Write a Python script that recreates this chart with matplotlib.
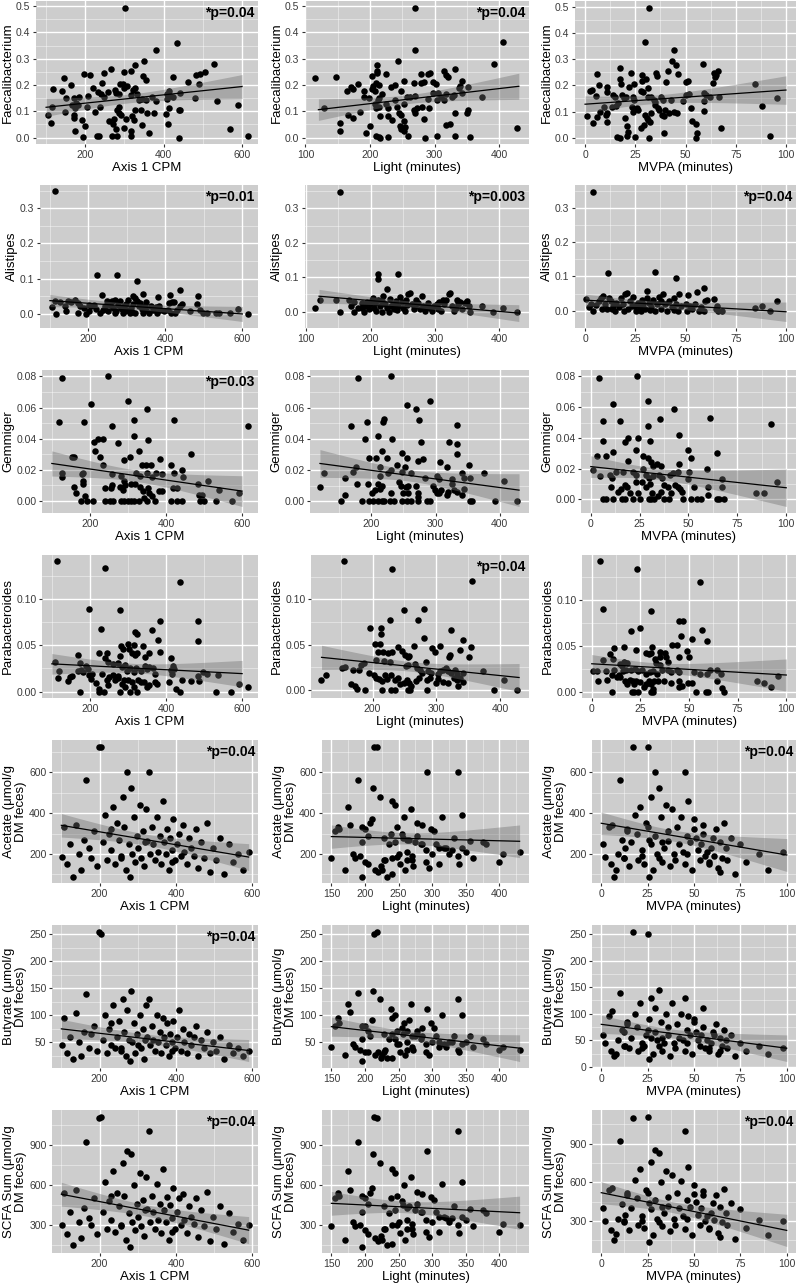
import numpy as np
import matplotlib
matplotlib.use('Agg')
from matplotlib import pyplot as plt
from matplotlib.ticker import MultipleLocator, FormatStrFormatter

plt.rcParams['font.family'] = ['Liberation Sans', 'DejaVu Sans']

# (x, y) pairs
faec_cpm = [(301,.495),(435,.36),(381,.333),(529,.28),(350,.29),(327,.276),(265,.262),(316,.254),(300,.248),(249,.246),(197,.242),(213,.237),(146,.227),(347,.234),(354,.218),(423,.229),(505,.25),(493,.242),(483,.238),(461,.21),(490,.203),(164,.2),(117,.185),(140,.177),(219,.187),(243,.208),(288,.204),(296,.204),(307,.196),(300,.19),(328,.19),(322,.181),(275,.181),(257,.175),(233,.175),(240,.166),(279,.168),(286,.165),(248,.156),(208,.157),(151,.152),(172,.152),(184,.156),(317,.163),(332,.166),(338,.143),(345,.148),(355,.143),(381,.14),(370,.153),(408,.166),(413,.178),(417,.158),(425,.156),(441,.168),(409,.148),(480,.149),(537,.14),(106,.084),(113,.054),(115,.118),(147,.099),(166,.124),(175,.111),(171,.086),(172,.073),(175,.023),(192,.065),(199,.044),(194,.001),(176,.13),(181,.122),(204,.115),(225,.096),(238,.115),(230,.004),(235,.004),(261,.061),(272,.052),(278,.032),(282,.004),(269,.004),(274,.07),(282,.105),(286,.118),(285,.092),(290,.084),(300,.035),(305,.07),(316,.004),(317,.023),(320,.08),(324,.067),(328,.105),(345,.047),(343,.103),(358,.095),(363,.016),(375,.092),(407,.09),(413,.111),(412,.052),(438,.103),(442,.103),(438,0),(569,.033),(590,.124),(615,.006)]
faec_light = [(269,.495),(406,.362),(270,.333),(391,.28),(243,.291),(115,.227),(147,.229),(211,.275),(211,.252),(211,.244),(225,.242),(203,.235),(278,.242),(292,.247),(290,.242),(314,.252),(317,.239),(320,.229),(332,.262),(209,.209),(205,.196),(214,.2),(164,.177),(170,.191),(174,.186),(181,.204),(191,.178),(190,.153),(199,.152),(203,.184),(207,.177),(218,.165),(233,.194),(239,.2),(248,.178),(252,.214),(257,.153),(261,.153),(268,.209),(270,.158),(279,.206),(284,.213),(297,.213),(302,.204),(297,.17),(305,.17),(289,.148),(304,.143),(309,.153),(315,.143),(318,.166),(326,.156),(329,.163),(337,.187),(342,.215),(339,.196),(342,.171),(352,.191),(373,.153),(128,.114),(153,.054),(153,.024),(185,.099),(193,.016),(200,.044),(207,.128),(209,.111),(214,.118),(215,.081),(212,.143),(214,.149),(209,.004),(213,.001),(216,0),(227,.001),(225,.127),(228,.111),(228,.082),(234,.065),(238,.143),(241,.118),(244,.095),(246,.044),(248,.032),(248,.086),(252,.128),(252,.061),(252,.023),(254,.039),(258,.006),(268,.105),(270,.095),(272,.111),(281,.118),(284,.07),(285,0),(291,.111),(304,.004),(318,.046),(323,.052),(331,.006),(332,.092),(350,.092),(351,.105),(354,.001),(427,.035),(166,.086),(173,.075)]
faec_mvpa = [(31.9,.497),(29.8,.364),(44.4,.335),(43.1,.293),(45.5,.276),(58.5,.281),(41.1,.254),(46.3,.243),(6.0,.243),(17.2,.265),(22.9,.249),(17.6,.226),(28.5,.238),(35.1,.246),(35.9,.237),(30.1,.223),(64.4,.249),(66.0,.254),(65.2,.238),(64.7,.23),(84.7,.205),(63.9,.209),(50.4,.212),(51.2,.216),(40.5,.214),(28.5,.216),(24.6,.205),(18.1,.207),(2.4,.179),(3.7,.184),(7.0,.201),(10.7,.192),(10.7,.173),(5.7,.159),(13.8,.163),(15.1,.154),(18.4,.163),(19.2,.15),(20.3,.154),(21.9,.192),(24.6,.144),(24.1,.156),(27.8,.179),(28.9,.173),(31.1,.188),(31.4,.156),(33.0,.154),(34.1,.144),(35.0,.135),(35.0,.125),(37.6,.156),(38.8,.144),(42.8,.144),(50.4,.165),(51.7,.167),(48.9,.14),(52.5,.112),(59.0,.172),(60.2,.163),(59.0,.14),(59.3,.103),(62.3,.156),(66.7,.156),(88.3,.123),(95.6,.15),(91.9,.006),(0.8,.084),(4.2,.055),(5.9,.08),(7.5,.099),(9.4,.118),(10.2,.087),(11.1,.093),(10.9,.061),(13.2,.116),(16.4,.131),(15.6,.121),(20.0,.074),(20.8,.045),(21.6,.023),(21.1,.006),(16.1,.004),(17.6,.001),(23.3,.118),(24.1,.099),(24.9,.004),(25.7,.112),(26.5,.106),(27.8,.036),(29.1,.048),(29.8,.087),(30.6,.074),(31.4,.067),(32.2,.061),(31.7,.001),(33.0,.093),(36.3,.112),(36.6,.106),(38.2,.087),(39.5,.084),(39.8,.106),(39.5,.02),(41.6,.095),(44.4,.099),(45.7,.093),(53.3,.065),(55.3,.052),(55.8,.019),(55.0,.001),(67.6,.036)]

alist_cpm = [(113,.348),(223,.11),(274,.111),(327,.094),(236,.052),(341,.057),(437,.066),(413,.054),(484,.049),(381,.046),(113,.035),(105,.02),(117,0),(139,.021),(143,.008),(147,.035),(164,.04),(172,.03),(179,.021),(174,.002),(193,0),(189,.016),(202,.025),(208,.021),(214,.025),(221,.013),(231,.002),(238,.011),(244,.023),(252,.008),(261,.035),(265,.016),(270,.002),(273,.008),(278,.024),(282,.035),(284,.016),(289,.002),(292,.023),(297,.027),(300,.011),(303,.04),(307,.002),(311,.016),(316,.027),(317,.049),(320,.044),(322,.002),(327,.035),(331,.021),(334,.03),(339,.014),(343,.002),(347,.021),(351,.011),(357,.002),(362,.021),(368,.011),(375,.018),(379,.002),(383,.021),(387,.011),(407,.011),(410,.03),(415,.002),(418,.033),(423,.033),(425,.002),(429,.011),(438,.021),(442,.027),(463,.007),(481,.027),(490,.009),(497,.002),(507,.002),(531,.002),(539,.002),(569,.002),(590,.013),(615,0),(202,.007),(248,.035),(256,.024),(269,.04),(287,.014),(295,.008),(314,.005),(349,.032),(155,.033),(126,.033),(396,.007)]
alist_light = [(153,.349),(211,.11),(211,.095),(243,.11),(226,.066),(114,.01),(122,.035),(147,.035),(153,0),(166,.033),(170,.016),(174,.029),(174,0),(181,.012),(187,.026),(190,0),(192,.016),(194,.029),(199,.021),(202,.033),(204,.04),(205,.012),(207,.026),(209,.002),(212,.035),(215,.016),(218,0),(220,.045),(223,.023),(225,.012),(228,0),(230,.038),(234,.021),(237,.007),(239,.031),(242,.016),(246,.042),(248,.029),(251,.012),(253,.002),(255,.035),(258,.05),(261,.055),(264,.023),(268,.007),(270,.035),(273,.026),(279,.045),(282,.016),(285,.002),(289,.026),(292,.012),(295,.002),(299,.016),(303,.023),(306,.029),(310,.002),(314,.021),(317,.035),(321,.05),(323,.055),(326,.016),(329,.002),(332,.012),(335,.023),(339,.029),(342,.007),(346,.026),(349,.031),(352,.016),(354,0),(373,.018),(390,0),(406,.012),(427,0),(187,.01),(218,.031),(241,.004),(256,.019),(277,.007),(305,.007),(312,.035),(232,.016),(198,.007),(269,.016),(334,.035),(287,.013)]
alist_mvpa = [(4.2,.348),(11.2,.11),(35.0,.112),(45.5,.096),(30.9,.058),(59.3,.065),(55.8,.055),(51.4,.046),(46.7,.05),(0.5,.034),(2.9,.021),(4.1,0),(5.4,.017),(6.7,.027),(7.8,.037),(9.1,.043),(9.9,.019),(10.7,.005),(11.9,.037),(12.7,.027),(13.8,.014),(14.8,0),(15.6,.024),(16.7,.012),(17.7,.037),(18.7,.021),(19.7,.048),(20.8,.053),(21.6,.005),(22.4,.027),(23.3,.014),(24.1,.04),(25.2,0),(26.2,.024),(27.2,.01),(28.1,.031),(28.9,.019),(29.8,.005),(30.7,.037),(31.7,.024),(32.7,.012),(33.7,.031),(34.6,0),(35.6,.019),(36.6,.04),(37.6,.029),(38.7,.048),(39.8,.019),(40.8,0),(42.0,.027),(43.1,.01),(44.1,.038),(45.2,.021),(46.3,0),(47.6,.014),(50.1,.021),(50.9,0),(52.2,.014),(53.3,.005),(54.9,.019),(56.6,0),(57.7,.012),(59.8,.027),(60.7,.031),(64.2,.034),(65.2,.005),(66.3,0),(68.0,0),(84.7,.009),(88.3,.014),(92.0,0),(95.6,.029),(8.6,.005),(13.5,.005),(19.2,0),(24.9,.014),(27.8,0),(32.2,.002),(37.9,.005),(44.4,.002),(59.3,0),(65.5,.014),(2.1,.01)]

gemm_cpm = [(128,.079),(248,.08),(300,.064),(204,.062),(349,.059),(120,.051),(185,.051),(317,.052),(421,.052),(259,.048),(616,.048),(211,.038),(221,.04),(234,.04),(214,.032),(317,.042),(352,.039),(273,.037),(330,.032),(467,.03),(305,.028),(152,.028),(159,.028),(227,.028),(234,.023),(289,.026),(384,.027),(338,.023),(347,.023),(360,.023),(414,.023),(126,.018),(126,.015),(179,.017),(182,.018),(257,.017),(282,.016),(320,.018),(332,.016),(349,.018),(374,.018),(389,.017),(421,.018),(442,.02),(446,.015),(364,.015),(182,.013),(183,.011),(159,.009),(164,.005),(187,.003),(289,.013),(291,.01),(258,.01),(240,.008),(255,.008),(308,.011),(319,.011),(332,.009),(339,.006),(353,.008),(364,.003),(382,.006),(389,.006),(418,.008),(429,.008),(484,.011),(488,.004),(495,.004),(510,.013),(539,.007),(592,.005),(176,0),(193,0),(208,0),(241,0),(252,0),(261,0),(282,0),(290,0),(299,0),(307,0),(317,0),(328,0),(349,0),(370,0),(413,0),(429,0),(442,0),(489,0),(500,0),(531,0),(573,0),(341,.002),(356,.005),(286,.007),(278,.009)]
gemm_light = [(179,.079),(230,.08),(291,.064),(255,.062),(269,.059),(193,.051),(218,.051),(220,.053),(274,.052),(169,.048),(333,.049),(211,.042),(190,.04),(232,.04),(278,.038),(321,.038),(334,.037),(217,.032),(247,.031),(333,.03),(197,.028),(207,.028),(225,.028),(256,.028),(272,.026),(280,.027),(307,.025),(318,.022),(352,.023),(376,.018),(127,.018),(172,.019),(176,.022),(214,.022),(226,.018),(230,.02),(240,.023),(247,.019),(253,.022),(262,.018),(283,.015),(302,.016),(305,.014),(325,.014),(341,.018),(345,.015),(353,.015),(407,.013),(120,.009),(159,.015),(159,.004),(178,.011),(195,.011),(201,.005),(206,.007),(210,.011),(214,.016),(213,.008),(216,.01),(230,.005),(243,.012),(246,.01),(249,.005),(254,.009),(257,.01),(257,.005),(270,.01),(272,.005),(273,.003),(296,.01),(299,.007),(302,.005),(305,.005),(309,.007),(318,.004),(320,.006),(325,.011),(328,.007),(333,.006),(341,.004),(345,.008),(152,0),(185,0),(196,0),(203,0),(210,0),(216,0),(220,0),(229,0),(236,0),(248,0),(255,0),(262,0),(272,0),(286,0),(292,0),(354,0),(357,0),(392,0),(427,0)]
gemm_mvpa = [(4.2,.079),(23.6,.08),(29.4,.064),(11.5,.062),(42.7,.059),(6.5,.051),(15.0,.051),(35.2,.052),(61.0,.053),(92.2,.049),(29.4,.048),(44.9,.042),(6.5,.038),(17.4,.037),(19.1,.04),(24.1,.04),(30.4,.038),(11.6,.031),(23.3,.032),(49.8,.032),(64.5,.03),(3.3,.028),(8.0,.028),(26.9,.028),(29.1,.027),(51.5,.027),(19.1,.025),(30.7,.024),(31.9,.022),(34.1,.023),(35.7,.022),(45.2,.023),(1.3,.019),(4.7,.015),(9.6,.016),(10.8,.014),(12.8,.018),(16.3,.018),(21.6,.018),(22.9,.016),(26.6,.02),(28.2,.016),(29.9,.014),(31.6,.015),(34.9,.016),(36.5,.014),(40.7,.016),(41.9,.017),(44.5,.018),(50.2,.018),(59.5,.02),(66.9,.013),(95.5,.011),(10.6,.008),(14.1,.005),(15.4,.007),(17.4,.009),(18.6,.008),(19.9,.004),(22.9,.011),(24.1,.004),(26.2,.011),(28.2,.008),(30.4,.01),(31.1,.004),(34.6,.002),(35.7,.005),(37.4,.009),(39.5,.008),(41.2,.004),(43.2,.009),(44.5,.008),(45.7,.007),(46.5,.005),(49.5,.013),(52.8,.008),(59.8,.008),(59.8,.003),(66.9,.008),(84.7,.004),(88.4,.004),(6.3,0),(7.8,0),(11.5,0),(15.8,0),(17.4,0),(21.6,0),(25.4,0),(29.6,0),(30.7,0),(32.4,0),(37.4,0),(39.9,0),(47.3,0),(51.5,0),(54.5,0),(56.5,0),(64.5,0),(65.6,0),(68.1,0)]

parab_cpm = [(114,.141),(239,.134),(438,.119),(199,.09),(279,.088),(485,.077),(383,.076),(230,.068),(364,.067),(318,.065),(325,.062),(380,.056),(483,.055),(299,.051),(315,.05),(282,.049),(339,.049),(286,.046),(303,.046),(310,.042),(325,.042),(355,.042),(384,.043),(223,.042),(246,.042),(168,.04),(280,.038),(318,.04),(344,.037),(412,.036),(239,.036),(248,.032),(108,.032),(174,.031),(191,.028),(196,.024),(118,.022),(168,.022),(177,.023),(181,.021),(260,.03),(275,.031),(284,.027),(292,.029),(298,.022),(306,.025),(315,.021),(321,.026),(334,.022),(344,.028),(349,.024),(355,.027),(366,.026),(370,.019),(413,.023),(420,.024),(416,.019),(419,.028),(496,.021),(508,.019),(537,.018),(116,.015),(142,.011),(148,.016),(152,.017),(197,.018),(206,.019),(215,.009),(223,.003),(223,0),(232,.019),(237,0),(246,.012),(248,.007),(249,.016),(260,.018),(266,.012),(273,.015),(275,.017),(280,0),(284,.008),(289,.012),(292,.005),(299,.012),(306,0),(312,.01),(317,.005),(324,0),(327,.012),(334,.01),(343,.01),(349,.005),(356,.007),(370,.01),(377,.008),(409,.01),(426,.003),(438,0),(442,.012),(465,.011),(488,.011),(483,.017),(531,0),(571,0),(591,.008),(616,.005),(173,0),(202,.014)]
parab_light = [(156,.142),(230,.134),(356,.12),(280,.09),(249,.088),(272,.077),(228,.077),(196,.068),(213,.069),(213,.062),(323,.066),(281,.057),(342,.055),(204,.051),(212,.051),(265,.049),(306,.049),(355,.047),(240,.047),(246,.043),(209,.042),(217,.042),(224,.041),(231,.042),(293,.046),(298,.042),(337,.044),(322,.039),(320,.036),(351,.036),(251,.039),(255,.036),(258,.038),(205,.033),(218,.032),(227,.031),(284,.031),(266,.029),(182,.028),(187,.03),(152,.024),(157,.025),(170,.022),(178,.022),(253,.026),(256,.028),(270,.024),(274,.022),(277,.019),(287,.021),(292,.019),(302,.018),(306,.021),(310,.022),(315,.024),(319,.021),(323,.019),(329,.022),(333,.018),(342,.019),(374,.021),(195,.019),(202,.017),(205,.013),(210,.012),(215,.01),(219,.016),(223,.012),(229,.016),(235,.011),(240,.013),(243,.006),(249,.008),(254,.011),(257,.008),(260,.004),(269,.01),(273,.013),(285,.011),(290,.013),(299,.008),(303,.012),(310,.009),(319,.008),(328,.013),(332,.011),(337,.013),(342,.009),(119,.011),(127,.016),(167,.006),(172,.004),(176,.001),(188,0),(215,0),(229,0),(235,0),(255,0),(259,0),(286,0),(334,.004),(391,0),(406,.011),(427,0)]
parab_mvpa = [(4.3,.142),(23.3,.134),(55.5,.12),(6.0,.09),(30.7,.088),(45.0,.077),(46.8,.077),(25.0,.069),(56.7,.067),(20.2,.066),(46.0,.061),(51.3,.057),(59.5,.055),(16.7,.049),(31.0,.049),(41.3,.051),(43.8,.051),(11.3,.047),(23.0,.045),(48.8,.044),(9.3,.041),(27.7,.042),(29.2,.041),(30.5,.042),(35.0,.043),(37.7,.042),(6.0,.034),(10.8,.036),(35.0,.038),(38.3,.038),(45.0,.038),(50.0,.038),(32.3,.035),(39.3,.032),(33.0,.031),(14.3,.03),(16.7,.032),(18.3,.031),(15.5,.028),(35.0,.029),(39.3,.024),(2.7,.022),(0.5,.022),(7.2,.022),(11.3,.024),(13.8,.018),(16.0,.022),(17.7,.024),(20.0,.023),(22.2,.025),(23.8,.022),(26.0,.024),(28.0,.019),(29.7,.021),(31.3,.022),(33.3,.019),(36.0,.023),(40.5,.021),(43.8,.024),(44.7,.021),(52.7,.021),(55.8,.019),(59.3,.019),(61.0,.023),(64.2,.024),(66.3,.019),(3.0,.012),(7.7,.013),(10.5,.018),(13.0,.016),(14.7,.016),(17.2,.012),(18.0,.008),(19.7,.013),(21.0,.011),(21.7,.008),(23.0,.012),(24.7,.01),(26.7,.005),(28.0,.008),(29.3,.012),(30.5,.008),(31.3,.003),(32.2,.012),(34.3,.012),(37.2,.012),(40.5,.009),(44.7,.011),(45.0,.005),(46.3,.006),(49.7,.009),(51.3,.009),(64.3,.011),(67.2,.004),(68.0,0),(10.2,0),(20.5,0),(21.7,0),(24.0,0),(30.5,0),(31.3,0),(53.8,0),(58.8,0),(59.7,0),(85.0,.011),(88.3,.009),(92.2,.005),(95.8,.017)]

# SCFA subset: one entry per participant (same order in every list)
scfa_cpm_x = [102,108,115,122,130,138,145,152,160,165,172,178,185,192,198,204,210,215,220,225,230,235,240,245,250,255,260,265,270,273,277,281,285,289,293,297,301,305,309,313,317,321,325,329,333,337,341,345,349,353,357,361,365,369,373,377,381,385,389,393,397,402,407,412,417,422,428,434,440,446,452,458,465,472,480,488,496,505,515,525,538,550,562,575,590,255,318,230,390,280]
scfa_light_x = [248,160,205,285,232,178,300,215,262,190,320,240,155,272,218,213,195,345,228,255,290,175,310,208,265,338,222,248,170,292,235,212,325,258,200,278,345,245,185,302,224,268,356,338,250,195,283,230,315,262,205,340,240,275,182,298,225,256,330,210,270,305,238,192,285,350,252,228,318,270,200,295,245,360,278,220,310,262,332,240,380,290,405,260,430,150,375,162,400,195]
scfa_mvpa_x = [2,4,5,1,7,6,9,8,11,10,13,12,14,15,17,25,16,18,20,19,22,21,23,24,26,22,27,25,28,29,27,31,30,32,33,29,34,35,31,36,37,38,36,45,39,41,42,40,43,44,46,45,47,48,46,50,49,51,52,50,53,54,55,56,55,57,58,60,59,61,62,63,64,65,66,64,67,68,70,72,75,78,85,90,98,12,33,14,58,26]
acetate = [185,330,150,250,90,340,200,120,270,560,230,180,310,140,725,725,260,390,170,300,220,430,150,350,270,190,480,330,120,600,250,520,200,380,160,290,230,440,180,310,140,420,265,600,200,330,250,170,380,210,290,150,460,260,200,320,120,280,220,370,170,250,300,190,340,210,150,280,230,190,320,130,260,180,350,110,230,170,280,100,250,160,200,120,210,180,260,320,160,90]
butyrate = [45,95,30,60,20,105,50,25,70,140,40,65,80,35,255,250,55,100,30,75,45,120,40,60,90,35,130,70,25,110,55,145,50,85,30,65,45,100,40,75,20,120,60,130,45,80,55,35,100,50,70,30,95,60,45,85,25,65,50,90,40,60,110,35,75,50,30,65,45,60,80,25,55,40,70,30,50,35,60,20,45,30,40,25,35,40,55,85,35,15]
scfa_sum = [300,540,230,400,150,560,320,200,430,920,350,300,500,230,1100,1110,400,620,270,480,340,700,250,540,440,300,760,520,190,850,390,830,320,600,260,460,360,690,290,490,220,660,420,1000,320,520,400,270,610,340,460,240,720,410,320,510,190,450,350,580,270,400,500,300,530,340,240,440,360,310,500,210,410,290,550,180,360,270,440,160,390,250,310,190,300,290,410,520,250,140]

# fitted lm lines: y at the start and end of the line, per column
faec_fit = [(.115, .194), (.106, .195), (.128, .182)]
alist_fit = [(.037, -.001), (.045, -.004), (.031, -.003)]
gemm_fit = [(.024, .0062), (.0242, .0071), (.0213, .0075)]
parab_fit = [(.030, .0194), (.036, .0137), (.0303, .018)]
acet_fit = [(340, 185), (285, 262), (350, 195)]
buty_fit = [(75, 35), (78, 38), (80, 35)]
scfa_fit = [(530, 262), (462, 392), (520, 228)]

xlabels = ['Axis 1 CPM', 'Light (minutes)', 'MVPA (minutes)']
# x range covered by each lm line, per column
fit_range_micro = [(100, 600), (120, 430), (0, 100)]
fit_range_scfa = [(100, 590), (150, 430), (0, 100)]

scfa_x = [scfa_cpm_x, scfa_light_x, scfa_mvpa_x]
rows = [
    dict(ylabel='Faecalibacterium', data=[faec_cpm, faec_light, faec_mvpa], fit=faec_fit, p=['*p=0.04', '*p=0.04', ''], ystep=0.1, yfmt='%.1f'),
    dict(ylabel='Alistipes', data=[alist_cpm, alist_light, alist_mvpa], fit=alist_fit, p=['*p=0.01', '*p=0.003', '*p=0.04'], ystep=0.1, yfmt='%.1f'),
    dict(ylabel='Gemmiger', data=[gemm_cpm, gemm_light, gemm_mvpa], fit=gemm_fit, p=['*p=0.03', '', ''], ystep=0.02, yfmt='%.2f'),
    dict(ylabel='Parabacteroides', data=[parab_cpm, parab_light, parab_mvpa], fit=parab_fit, p=['', '*p=0.04', ''], ystep=0.05, yfmt='%.2f'),
    dict(ylabel='Acetate (\u03bcmol/g\nDM feces)', data=[list(zip(xv, acetate)) for xv in scfa_x], fit=acet_fit, p=['*p=0.04', '', '*p=0.04'], ystep=200, yfmt='%d'),
    dict(ylabel='Butyrate (\u03bcmol/g\nDM feces)', data=[list(zip(xv, butyrate)) for xv in scfa_x], fit=buty_fit, p=['*p=0.04', '', ''], ystep=50, yfmt='%d'),
    dict(ylabel='SCFA Sum (\u03bcmol/g\nDM feces)', data=[list(zip(xv, scfa_sum)) for xv in scfa_x], fit=scfa_fit, p=['*p=0.04', '', '*p=0.04'], ystep=300, yfmt='%d'),
]

bg = '#CDCDCD'
W, H = 800, 1287
row_left = [[36, 305, 575], [40, 305, 575], [42, 310, 581], [42, 311, 582],
            [52, 322, 592], [52, 322, 592], [52, 322, 592]]
col_right = [258, 529, 796]
row_top = [1, 185, 370, 555, 740, 925, 1110]
panel_h = 143


def lm_band(x, y, lo, hi, y_lo, y_hi):
    # line, 95% band width from the points
    n = len(x)
    b, a = np.polyfit(x, y, 1)
    xs = np.linspace(lo, hi, 100)
    yhat = y_lo + (y_hi - y_lo) * (xs - lo) / (hi - lo)
    s = np.sqrt(np.sum((y - (a + b * x)) ** 2) / (n - 2))
    se = s * np.sqrt(1 / n + (xs - x.mean()) ** 2 / np.sum((x - x.mean()) ** 2))
    return xs, yhat, yhat - 1.98 * se, yhat + 1.98 * se


fig = plt.figure(figsize=(8, 12.87), dpi=100)
for r, row in enumerate(rows):
    if r < 4:
        xsteps = [200, 100, 25]
        fits = fit_range_micro
    else:
        xsteps = [200, 50, 25]
        fits = fit_range_scfa
    for c in range(3):
        pts = np.array(row['data'][c], dtype=float)
        x, y = pts[:, 0], pts[:, 1]
        l, rr = row_left[r][c], col_right[c]
        top = row_top[r]
        ax = fig.add_axes([l / W, 1 - (top + panel_h) / H, (rr - l) / W, panel_h / H])
        ax.set_facecolor(bg)
        for sp in ax.spines.values():
            sp.set_visible(False)

        xs, yhat, ylo, yhi = lm_band(x, y, *fits[c], *row['fit'][c])
        ax.scatter(x, y, s=22, color='black', linewidths=0, zorder=3)
        ax.fill_between(xs, ylo, yhi, color='#6E6E6E', alpha=0.4, lw=0, zorder=4)
        ax.plot(xs, yhat, color='black', lw=0.9, zorder=5)

        x0, x1 = min(x.min(), xs.min()), max(x.max(), xs.max())
        y0, y1 = min(y.min(), ylo.min()), max(y.max(), yhi.max())
        ax.set_xlim(x0 - 0.05 * (x1 - x0), x1 + 0.05 * (x1 - x0))
        ax.set_ylim(y0 - 0.05 * (y1 - y0), y1 + 0.05 * (y1 - y0))

        ax.xaxis.set_major_locator(MultipleLocator(xsteps[c]))
        ax.xaxis.set_minor_locator(MultipleLocator(xsteps[c] / 2))
        ax.yaxis.set_major_locator(MultipleLocator(row['ystep']))
        ax.yaxis.set_minor_locator(MultipleLocator(row['ystep'] / 2))
        ax.xaxis.set_major_formatter(FormatStrFormatter('%d'))
        ax.yaxis.set_major_formatter(FormatStrFormatter(row['yfmt']))
        ax.grid(which='major', color='white', lw=1.0)
        ax.grid(which='minor', color='white', lw=0.5, alpha=0.6)
        ax.set_axisbelow(True)
        ax.tick_params(which='major', length=2.5, width=0.8, color='#333333',
                       labelsize=7.5, labelcolor='#3A3A3A', pad=1.5)
        ax.tick_params(which='minor', length=0)

        ax.set_xlabel(xlabels[c], fontsize=9.5, labelpad=1.5)
        ax.set_ylabel(row['ylabel'], fontsize=9.5, labelpad=1.5, linespacing=1.0)
        if row['p'][c]:
            ax.text(0.985, 0.965, row['p'][c], transform=ax.transAxes, ha='right', va='top',
                    fontsize=10, fontweight='bold')

fig.savefig('out.png', dpi=100, facecolor='white')
